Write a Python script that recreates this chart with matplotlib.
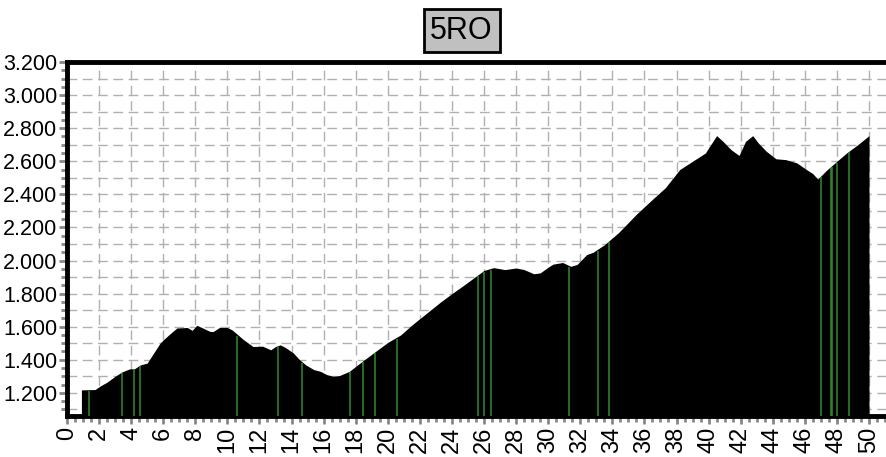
import numpy as np
import matplotlib
matplotlib.use("Agg")
import matplotlib.pyplot as plt
from matplotlib.ticker import MultipleLocator, FuncFormatter

# distance (km) and elevation (m) of the profile
km = [0.9, 1.75, 2.05, 2.5, 3.0, 3.4, 3.9, 4.2, 4.55, 5.0, 5.4, 5.8, 6.0, 6.4,
      6.85, 7.5, 7.8, 8.1, 8.4, 8.9, 9.1, 9.5, 10.0, 10.3, 11.0, 11.6, 12.2,
      12.7, 13.0, 13.3, 13.6, 14.1, 14.5, 14.9, 15.4, 15.8, 16.2, 16.6, 17.0,
      17.6, 18.4, 19.3, 20.0, 20.8, 21.5, 22.4, 23.3, 24.0, 24.8, 25.5, 26.0,
      26.6, 27.3, 28.0, 28.5, 29.1, 29.5, 30.0, 30.3, 30.9, 31.4, 31.8, 32.4,
      32.8, 33.5, 34.4, 35.5, 36.5, 37.3, 38.2, 39.0, 39.8, 40.2, 40.5, 40.9,
      41.4, 41.9, 42.3, 42.75, 43.1, 43.6, 44.2, 44.8, 45.5, 46.1, 46.5, 46.8,
      47.4, 48.0, 48.6, 49.3, 50.0]
elev = [1218, 1220, 1240, 1265, 1300, 1325, 1345, 1345, 1368, 1380, 1440, 1500,
        1520, 1555, 1592, 1595, 1578, 1608, 1595, 1572, 1570, 1595, 1595, 1580,
        1522, 1480, 1482, 1460, 1480, 1490, 1475, 1442, 1400, 1368, 1340, 1330,
        1310, 1300, 1305, 1330, 1390, 1455, 1505, 1550, 1610, 1680, 1750, 1800,
        1855, 1905, 1940, 1957, 1945, 1955, 1945, 1920, 1925, 1960, 1978, 1988,
        1965, 1976, 2036, 2050, 2095, 2170, 2280, 2370, 2440, 2550, 2600, 2650,
        2710, 2755, 2720, 2670, 2635, 2720, 2755, 2710, 2660, 2615, 2610, 2590,
        2550, 2525, 2492, 2550, 2600, 2650, 2700, 2755]

# green markers along the route
marks = [1.39, 3.41, 4.18, 4.55, 10.62, 13.13, 14.68, 17.64, 18.43, 19.2,
         20.55, 25.64, 26.0, 26.41, 31.3, 33.08, 33.77, 47.0, 47.6, 47.67,
         47.98, 48.77]

title = "5RO"
ymin, ymax = 1060, 3200

fig = plt.figure(figsize=(8.86, 4.57), dpi=100)
ax = fig.add_axes([0.0756, 0.0897, 0.9244, 0.7746])

# grid (dashed grey) under the profile
for y in np.arange(1100, 3201, 100):
    ax.axhline(y, color='#b0b0b0', lw=1, ls=(0, (7, 4)), zorder=0)
ax.xaxis.set_major_locator(MultipleLocator(2))
ax.xaxis.set_minor_locator(MultipleLocator(0.5))
ax.grid(axis='x', which='major', color='#b0b0b0', lw=1, ls=(0, (7, 4)), zorder=0)
ax.set_axisbelow(True)

ax.fill_between(km, elev, ymin, color='black', lw=0, zorder=2)
tops = np.interp(marks, km, elev)
ax.vlines(marks, ymin, tops - 8, color='#2f8a2f', lw=1.1, zorder=3)

ax.set_xlim(0, 51.06)
ax.set_ylim(ymin, ymax)
ax.yaxis.set_minor_locator(MultipleLocator(50))
ax.set_yticks(np.arange(1200, 3201, 200))
ax.yaxis.set_major_formatter(FuncFormatter(lambda v, p: f"{v:,.0f}".replace(',', '.')))

ax.tick_params(axis='both', which='major', color='#888888', length=6, width=2)
ax.tick_params(axis='both', which='minor', color='#888888', length=4, width=2)
for lab in ax.get_yticklabels():
    lab.set_family('Liberation Sans')
    lab.set_fontsize(15.5)
for lab in ax.get_xticklabels():
    lab.set_family('Liberation Sans')
    lab.set_fontsize(17)
    lab.set_rotation(90)
ax.tick_params(axis='y', pad=1)
ax.tick_params(axis='x', pad=2)

for side in ['left', 'top', 'bottom']:
    ax.spines[side].set_linewidth(3.5)
    ax.spines[side].set_color('black')
ax.spines['right'].set_visible(False)

fig.text(0.521, 0.933, title, ha='center', va='center', fontsize=22,
         family='Liberation Sans',
         bbox=dict(boxstyle='square,pad=0.22', facecolor='#c0c0c0',
                   edgecolor='black', linewidth=2))

fig.savefig("out.png", dpi=100)
